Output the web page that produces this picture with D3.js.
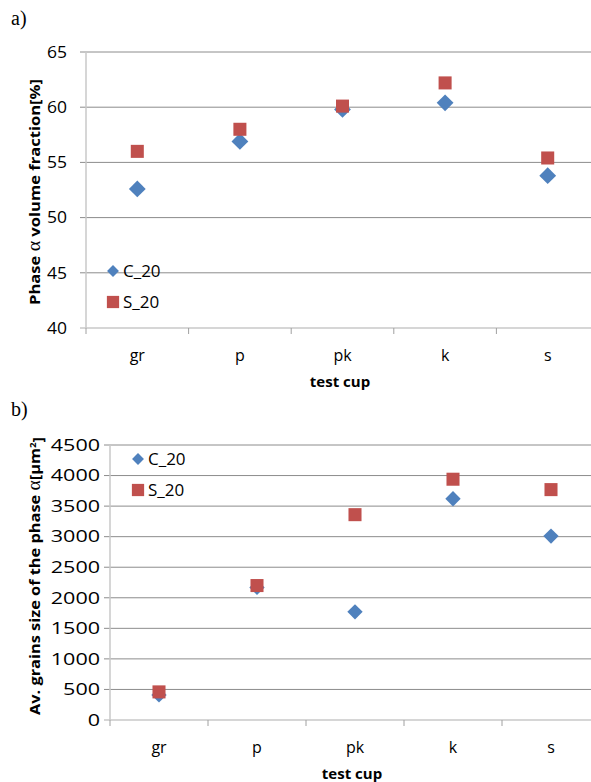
<!DOCTYPE html>
<html>
<head>
<meta charset="utf-8">
<script src="https://cdn.jsdelivr.net/npm/d3@7"></script>
<style>
  body { margin: 0; background: #fff; }
  svg { display: block; font-family: 'Open Sans', 'Liberation Sans', sans-serif; }
</style>
</head>
<body>
<script>
const categories = ['gr', 'p', 'pk', 'k', 's'];
const series = ['C_20', 'S_20'];

// panel a) phase alpha volume fraction [%]
const fractionC = [52.6, 56.9, 59.8, 60.4, 53.8];
const fractionS = [56.0, 58.0, 60.1, 62.2, 55.4];
const fractionTicks = [40, 45, 50, 55, 60, 65];

// panel b) average grain size [um2]
const grainC = [410, 2170, 1770, 3620, 3010];
const grainS = [460, 2200, 3360, 3940, 3770];
const grainTicks = [0, 500, 1000, 1500, 2000, 2500, 3000, 3500, 4000, 4500];

const BLUE = '#4f81bd';
const RED = '#c0504d';

const svg = d3.select('body').append('svg')
  .attr('width', 591)
  .attr('height', 782);

function drawPanel(opt) {
  const g = svg.append('g');
  const x = d3.scaleBand().domain(categories).range([opt.left, opt.right]);
  const y = d3.scaleLinear().domain(opt.domain).range([opt.bottom, opt.top]);

  // panel letter
  g.append('text')
    .attr('x', 11).attr('y', opt.letterY)
    .style('font-family', "'Liberation Serif', serif")
    .style('font-size', '20px')
    .text(opt.letter);

  // gridlines + y ticks
  g.selectAll('.grid').data(opt.ticks).join('line')
    .attr('x1', opt.left - 6).attr('x2', 600)
    .attr('y1', d => y(d)).attr('y2', d => y(d))
    .attr('stroke', d => d === opt.domain[0] ? '#c8c8c8' : '#8c8c8c')
    .attr('stroke-width', d => d === opt.domain[0] ? 1.5 : 1);

  g.selectAll('.ylab').data(opt.ticks).join('text')
    .attr('x', opt.left - opt.labGap).attr('y', d => y(d))
    .attr('dy', '0.36em')
    .attr('text-anchor', 'end')
    .attr('textLength', d => String(d).length * opt.digitW)
    .attr('lengthAdjust', 'spacingAndGlyphs')
    .style('font-size', '16px')
    .attr('fill', '#000')
    .text(d => d);

  // y axis line
  g.append('line')
    .attr('x1', opt.left).attr('x2', opt.left)
    .attr('y1', opt.top).attr('y2', opt.bottom)
    .attr('stroke', '#c8c8c8').attr('stroke-width', 1.5);

  // x ticks between categories
  const bounds = categories.map(c => x(c)).concat([opt.right]);
  g.selectAll('.xtick').data(bounds).join('line')
    .attr('x1', d => d).attr('x2', d => d)
    .attr('y1', opt.bottom).attr('y2', opt.bottom + 6)
    .attr('stroke', '#a0a0a0');

  g.selectAll('.xlab').data(categories).join('text')
    .attr('x', d => x(d) + x.bandwidth() / 2)
    .attr('y', opt.bottom + 27)
    .attr('dy', '0.36em')
    .attr('text-anchor', 'middle')
    .style('font-size', '16px')
    .text(d => d);

  g.append('text')
    .attr('x', (opt.left + 600) / 2 - 3)
    .attr('y', opt.bottom + 54)
    .attr('dy', '0.36em')
    .attr('text-anchor', 'middle')
    .style('font-size', '15px')
    .style('font-weight', 'bold')
    .text('test cup');

  // y title
  const yt = g.append('text')
    .attr('transform', `translate(40,${opt.titleY}) rotate(-90)`)
    .attr('text-anchor', 'middle')
    .attr('textLength', opt.titleLen)
    .attr('lengthAdjust', 'spacingAndGlyphs')
    .style('font-size', '15px')
    .style('font-weight', 'bold');
  yt.append('tspan').text(opt.titlePre);
  yt.append('tspan').style('font-family', "'Liberation Serif', serif")
    .style('font-weight', 'normal').style('font-size', '18px').text('α');
  yt.append('tspan').text(opt.titlePost);
  if (opt.sup) {
    yt.append('tspan').attr('dy', '-0.45em').style('font-size', '9px').text(opt.sup);
    yt.append('tspan').attr('dy', '0.45em').text(']');
  }

  const diamond = d3.symbol().type(d3.symbolDiamond2).size(opt.dSize);
  const square = d3.symbol().type(d3.symbolSquare).size(opt.sSize);
  const cx = d => x(d) + x.bandwidth() / 2;

  g.selectAll('.c').data(opt.c).join('path')
    .attr('d', diamond)
    .attr('transform', (d, i) => `translate(${cx(categories[i])},${y(d)})`)
    .attr('fill', BLUE);
  g.selectAll('.s').data(opt.s).join('path')
    .attr('d', square)
    .attr('transform', (d, i) => `translate(${cx(categories[i])},${y(d)})`)
    .attr('fill', RED);

  // legend
  const leg = g.append('g');
  series.forEach((name, i) => {
    const ly = opt.legY + i * 31;
    leg.append('path')
      .attr('d', i === 0 ? d3.symbol().type(d3.symbolDiamond2).size(90) : d3.symbol().type(d3.symbolSquare).size(150))
      .attr('transform', `translate(${opt.legX},${ly})`)
      .attr('fill', i === 0 ? BLUE : RED);
    leg.append('text')
      .attr('x', opt.legX + 10).attr('y', ly)
      .attr('dy', '0.36em')
      .style('font-size', '17px')
      .text(name);
  });
}

drawPanel({
  letter: 'a)', letterY: 25,
  left: 86, right: 599, top: 52, bottom: 328,
  domain: [40, 65], ticks: fractionTicks,
  labGap: 19, digitW: 10,
  c: fractionC, s: fractionS,
  dSize: 180, sSize: 170,
  titleY: 192, titleLen: 226,
  titlePre: 'Phase ', titlePost: ' volume fraction[%]',
  legX: 113, legY: 271
});

drawPanel({
  letter: 'b)', letterY: 416,
  left: 110, right: 600, top: 445, bottom: 720,
  domain: [0, 4500], ticks: grainTicks,
  labGap: 10, digitW: 12.3,
  c: grainC, s: grainS,
  dSize: 150, sSize: 170,
  titleY: 576, titleLen: 278,
  titlePre: 'Av. grains size of the phase ', titlePost: '[µm', sup: '2',
  legX: 138, legY: 459
});
</script>
</body>
</html>
